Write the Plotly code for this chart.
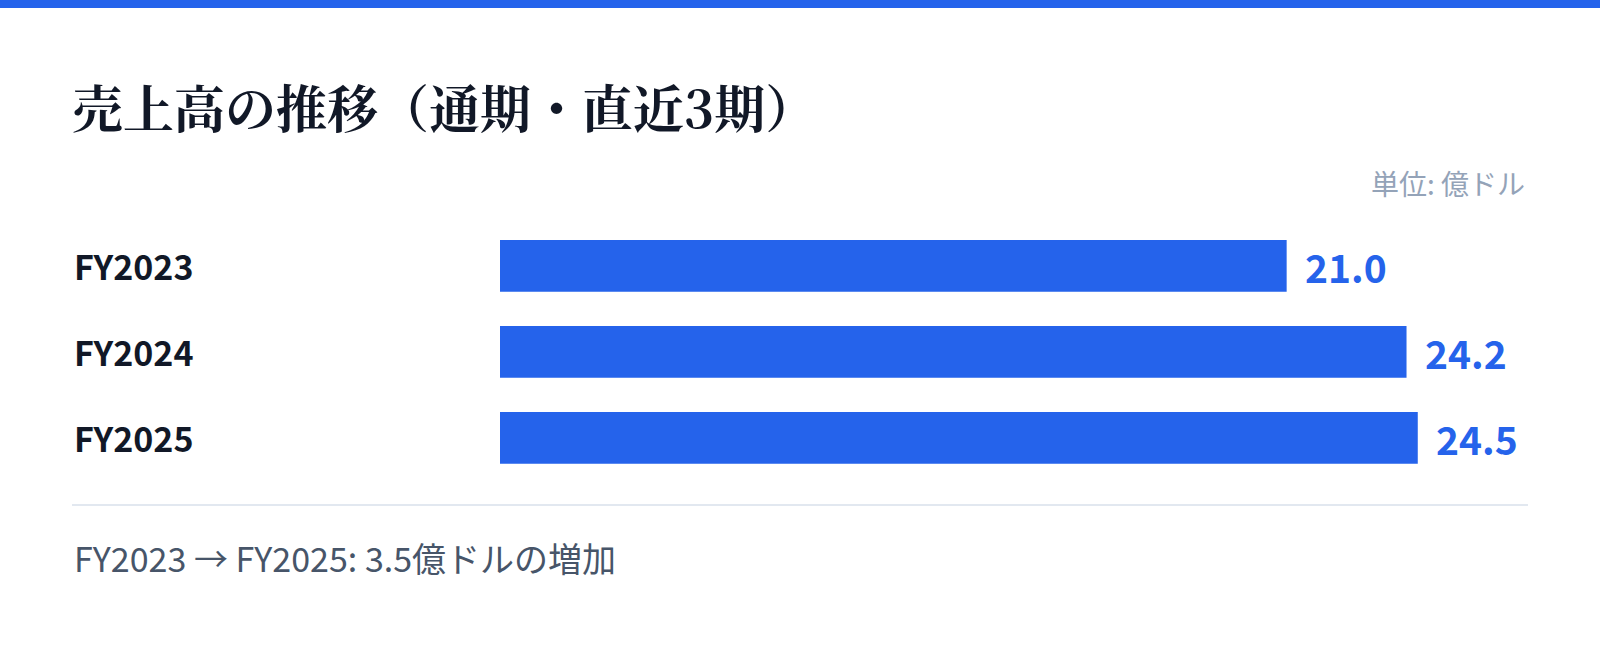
import plotly.graph_objects as go

# data
years = ['FY2023', 'FY2024', 'FY2025']
sales = [21.0, 24.2, 24.5]
value_labels = ['21.0', '24.2', '24.5']

title_text = '売上高の推移（通期・直近3期）'
unit_text = '単位: 億ドル'
footer_text = 'FY2023 → FY2025: 3.5億ドルの増加'

BLUE = '#2563eb'
DARK = '#111827'
W, H = 1600, 647
SANS = 'Noto Sans CJK JP, Noto Sans, sans-serif'


def px_y(y):
    # pixel from top -> paper
    return 1 - y / H


fig = go.Figure()
fig.add_trace(go.Bar(
    x=sales, y=years, orientation='h',
    marker=dict(color=BLUE, line=dict(width=0)),
    width=0.601, hoverinfo='skip',
))

# year labels on the left, value labels after each bar
for yr, v, lbl in zip(years, sales, value_labels):
    fig.add_annotation(x=72 / W, xref='paper', y=yr, yref='y', text='<b>' + yr + '</b>',
                       showarrow=False, xanchor='left', yanchor='middle',
                       font=dict(family=SANS, size=34, color=DARK))
    fig.add_annotation(x=v, xref='x', y=yr, yref='y', text='<b>' + lbl + '</b>',
                       showarrow=False, xanchor='left', yanchor='middle', xshift=16,
                       font=dict(family=SANS, size=39, color=BLUE))

fig.add_annotation(x=1527 / W, xref='paper', y=px_y(183), yref='paper', text=unit_text,
                   showarrow=False, xanchor='right', yanchor='middle',
                   font=dict(family=SANS, size=28, color='#94a3b8'))
fig.add_annotation(x=72 / W, xref='paper', y=px_y(557), yref='paper', text=footer_text,
                   showarrow=False, xanchor='left', yanchor='middle',
                   font=dict(family=SANS, size=34, color='#475569'))

# top stripe and divider
fig.add_shape(type='rect', xref='paper', yref='paper', x0=0, x1=1, y0=px_y(8), y1=1,
              fillcolor=BLUE, line=dict(width=0))
fig.add_shape(type='line', xref='paper', yref='paper', x0=72 / W, x1=1528 / W,
              y0=px_y(505), y1=px_y(505), line=dict(color='#e2e8f0', width=2))

fig.update_layout(
    width=W, height=H,
    margin=dict(l=0, r=0, t=0, b=0),
    paper_bgcolor='white', plot_bgcolor='white',
    showlegend=False,
    title=dict(text='<b>' + title_text + '</b>', x=72 / W, xanchor='left',
               y=px_y(110.5), yanchor='middle', xref='paper', yref='paper',
               font=dict(family='Noto Serif CJK JP, Noto Sans CJK JP, serif', size=51, color=DARK)),
    xaxis=dict(domain=[500 / W, 1528 / W], range=[0, 1028 / 37.46], visible=False, fixedrange=True),
    yaxis=dict(domain=[px_y(480.8), px_y(222.8)], range=[2.5, -0.5], visible=False, fixedrange=True),
)

# drop the default body margin so the figure sits flush in the window
fig.write_html('out.html', config={'displayModeBar': False},
               post_script="document.body.style.margin='0';document.body.style.overflow='hidden';")
